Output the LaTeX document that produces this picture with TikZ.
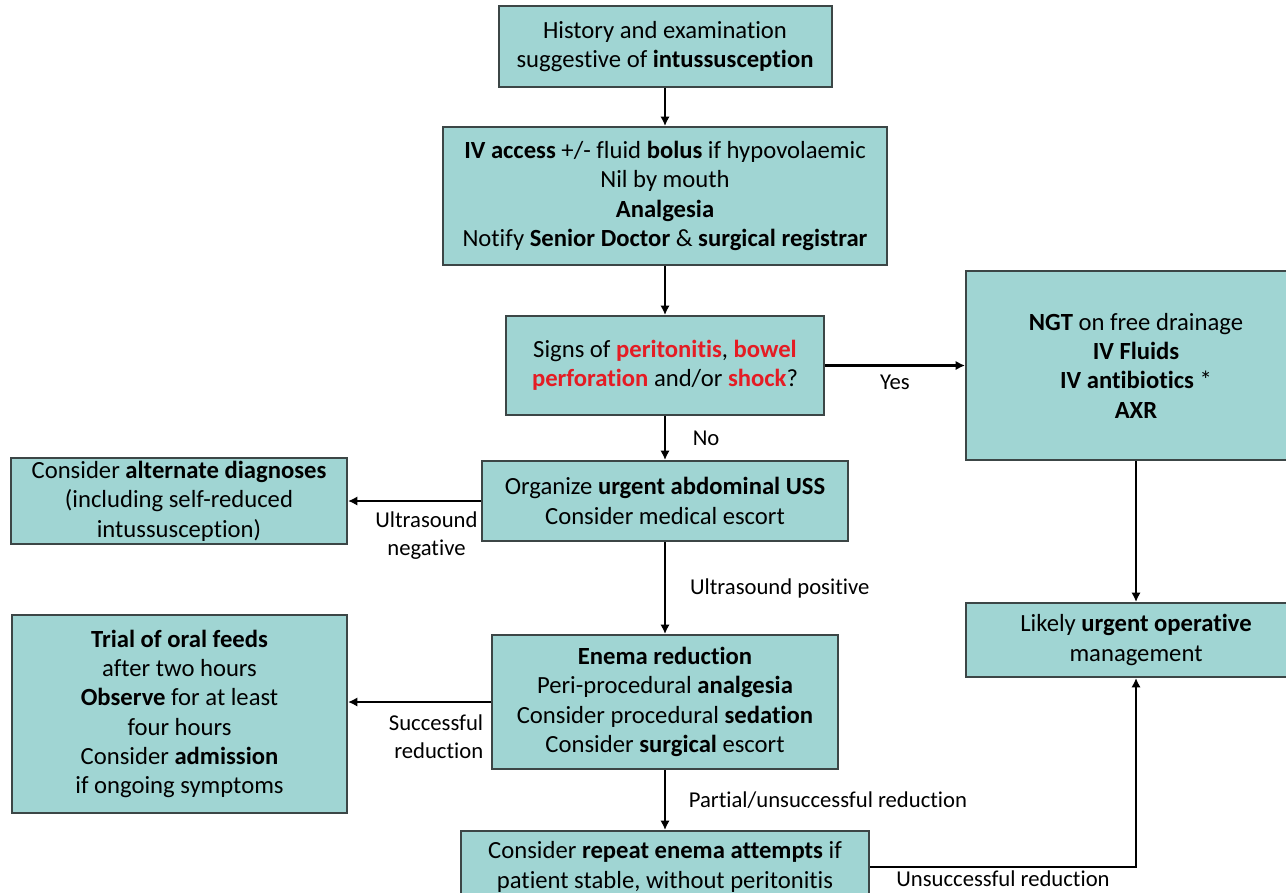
\documentclass[tikz,border=0pt]{standalone}
\usepackage{fontspec}
\setmainfont{Carlito}[Ligatures={NoCommon}]
\usepackage{xcolor}
\usepackage{tikz}
\usetikzlibrary{arrows.meta, positioning}
\definecolor{boxfill}{RGB}{160,213,211}
\definecolor{boxline}{RGB}{60,70,70}
\definecolor{alertred}{RGB}{228,28,36}
\newcommand{\hl}[1]{\textbf{\textcolor{alertred}{#1}}}

\begin{document}
\begin{tikzpicture}[
    x=0.75pt, y=-0.75pt,
    block/.style={rectangle, draw=boxline, fill=boxfill, line width=1.5pt, align=center, inner sep=2pt, font=\fontsize{18.5}{22}\selectfont},
    lbl/.style={font=\fontsize{17}{21}\selectfont, inner sep=2pt},
    arr/.style={-{Latex[length=7pt, width=7pt]}, line width=1.7pt},
]
\useasboundingbox (0,0) rectangle (1286,893);
\fill[white] (0,0) rectangle (1286,893);
\clip (0,0) rectangle (1286,893);

\node[block, minimum width=249.75pt, minimum height=60.75pt] (hist) at (665,46.5)
    {History and examination\\suggestive of \textbf{intussusception}};
\node[block, minimum width=333pt, minimum height=103.5pt, below=28.5pt of hist] (ivacc)
    {\textbf{IV access} +/- fluid \textbf{bolus} if hypovolaemic\\Nil by mouth\\\textbf{Analgesia}\\Notify \textbf{Senior Doctor} \& \textbf{surgical registrar}};
\node[block, minimum width=238.5pt, minimum height=74.25pt, below=36.75pt of ivacc] (signs)
    {Signs of \hl{peritonitis}, \hl{bowel}\\\hl{perforation} and/or \hl{shock}?};
\node[block, minimum width=274.5pt, minimum height=60pt, below=33pt of signs] (uss)
    {Organize \textbf{urgent abdominal USS}\\Consider medical escort};
\node[block, minimum width=259.5pt, minimum height=100.5pt, below=69pt of uss] (enema)
    {\textbf{Enema reduction}\\Peri-procedural \textbf{analgesia}\\Consider procedural \textbf{sedation}\\Consider \textbf{surgical} escort};
\node[block, minimum width=306pt, minimum height=54pt, below=45pt of enema] (repeat)
    {Consider \textbf{repeat enema attempts} if\\patient stable, without peritonitis};

\node[block, minimum width=255pt, minimum height=141.75pt, right=105pt of signs] (ngt)
    {\textbf{NGT} on free drainage\\\textbf{IV Fluids}\\\textbf{IV antibiotics} *\\\textbf{AXR}};
\node[block, minimum width=255pt, minimum height=55.5pt, below=105.75pt of ngt] (oper)
    {Likely \textbf{urgent operative}\\management};
\node[block, minimum width=252pt, minimum height=62.25pt, left=99.75pt of uss] (altdx)
    {Consider \textbf{alternate diagnoses}\\(including self-reduced\\intussusception)};
\node[block, minimum width=251.25pt, minimum height=148.5pt, left=107.25pt of enema, yshift=-9pt] (trial)
    {\textbf{Trial of oral feeds}\\after two hours\\\textbf{Observe} for at least\\four hours\\Consider \textbf{admission}\\if ongoing symptoms};

\foreach \a/\b in {hist/ivacc, ivacc/signs, ngt/oper}
    \draw[arr] (\a) -- (\b);
\draw[arr] (signs) -- node[lbl, right=18pt] {No} (uss);
\draw[arr] (uss) -- node[lbl, right=16pt] {Ultrasound positive} (enema);
\draw[arr] (enema) -- node[lbl, right=15pt] {Partial/unsuccessful reduction} (repeat);
\draw[arr] (signs) -- node[lbl, below=4pt] {Yes} (ngt);
\draw[arr] (uss) -- node[lbl, pos=0.41, below=5pt, align=center] {Ultrasound\\negative} (altdx);
\draw[arr] (enema.west) -- node[lbl, pos=0, anchor=north east, align=right, xshift=-3pt, yshift=-7pt] {Successful\\reduction} (enema.west -| trial.east);
\draw[arr] (repeat.east) -| node[lbl, pos=0.25, below=0pt] {Unsuccessful reduction} (oper.south);

\end{tikzpicture}
\end{document}
